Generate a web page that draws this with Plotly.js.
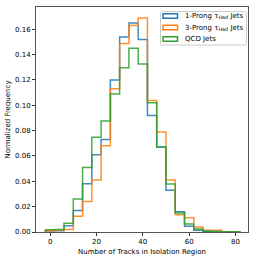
<!DOCTYPE html>
<html>
<head>
<meta charset="utf-8">
<script src="https://cdn.plot.ly/plotly-3.0.1.min.js"></script>
<style>html,body{margin:0;padding:0;background:#fff;}#chart{width:258px;height:258px;}</style>
</head>
<body>
<div id="chart"></div>
<script>
// Bin edges: -2, 2, 6, ..., 82 (width 4)
const binEdges = [-2,2,6,10,14,18,22,26,30,34,38,42,46,50,54,58,62,66,70,74,78,82];
const oneProng = [0.001,0.001,0.005,0.017,0.038,0.061,0.073,0.120,0.154,0.165,0.152,0.092,0.067,0.033,0.016,0.0045,0.0013,0.0004,0,0,0];
const threeProng = [0.0008,0.0013,0.002,0.0124,0.024,0.041,0.068,0.113,0.1487,0.163,0.169,0.1037,0.079,0.041,0.0137,0.0113,0.004,0.0013,0.0013,0,0];
const qcd = [0.0018,0.002,0.007,0.026,0.051,0.0747,0.0876,0.109,0.1297,0.145,0.1326,0.102,0.067,0.0379,0.015,0.0063,0.0024,0.0008,0.0003,0.0002,0.0002];
const seriesNames = ['1-Prong τ<sub>Had</sub> Jets','3-Prong τ<sub>Had</sub> Jets','QCD Jets'];
const seriesColors = ['#1f77b4','#ff7f0e','#2ca02c'];
const yTickVals = [0,0.02,0.04,0.06,0.08,0.10,0.12,0.14,0.16];
const xTickVals = [0,20,40,60,80];

function stepPath(vals){
  const xs=[binEdges[0]], ys=[0];
  for(let i=0;i<vals.length;i++){xs.push(binEdges[i]); ys.push(vals[i]);}
  xs.push(binEdges[vals.length]); ys.push(vals[vals.length-1]);
  xs.push(binEdges[vals.length]); ys.push(0);
  return {xs, ys};
}
const allSeries=[oneProng,threeProng,qcd];
const traces=[];
allSeries.forEach((vals,i)=>{
  const p=stepPath(vals);
  traces.push({type:'scatter',mode:'lines',name:seriesNames[i],x:p.xs,y:p.ys,line:{shape:'hv',color:seriesColors[i],width:1.5},opacity:0.85,showlegend:false,hoverinfo:'skip'});
});

// Manual legend (matplotlib style) in pixel layout -> paper coords
const M={l:36,r:10,t:7,b:26}, W=258, H=258;
const pw=W-M.l-M.r, ph=H-M.t-M.b;
const px=x=>(x-M.l)/pw, py=y=>(H-M.b-y)/ph;
const box={x0:160.5,x1:246.5,y0:11.5,y1:45};
const rr=2;
function roundRectPath(b){
  const X=px, Y=py;
  return `M${X(b.x0+rr)},${Y(b.y0)} L${X(b.x1-rr)},${Y(b.y0)} Q${X(b.x1)},${Y(b.y0)} ${X(b.x1)},${Y(b.y0+rr)} L${X(b.x1)},${Y(b.y1-rr)} Q${X(b.x1)},${Y(b.y1)} ${X(b.x1-rr)},${Y(b.y1)} L${X(b.x0+rr)},${Y(b.y1)} Q${X(b.x0)},${Y(b.y1)} ${X(b.x0)},${Y(b.y1-rr)} L${X(b.x0)},${Y(b.y0+rr)} Q${X(b.x0)},${Y(b.y0)} ${X(b.x0+rr)},${Y(b.y0)} Z`;
}
const shapes=[{type:'path',xref:'paper',yref:'paper',path:roundRectPath(box),fillcolor:'rgba(255,255,255,0.8)',line:{color:'#cccccc',width:1},layer:'above'}];
const annotations=[];
const rowY=[16,27.5,39];
seriesNames.forEach((n,i)=>{
  shapes.push({type:'rect',xref:'paper',yref:'paper',x0:px(163),x1:px(177.5),y0:py(rowY[i]+2.3),y1:py(rowY[i]-2.3),fillcolor:'rgba(0,0,0,0)',line:{color:seriesColors[i],width:1.5},layer:'above'});
  annotations.push({xref:'paper',yref:'paper',x:px(182.5),y:py(rowY[i]),xanchor:'left',yanchor:'middle',showarrow:false,text:n,font:{family:'DejaVu Sans, sans-serif',size:7,color:'#000'}});
});

const fnt={family:'DejaVu Sans, sans-serif',size:7,color:'#000'};
const layout={
  width:W,height:H,
  margin:{l:M.l,r:M.r,t:M.t,b:M.b,pad:0},
  paper_bgcolor:'#fff',plot_bgcolor:'#fff',
  font:fnt,
  showlegend:false,
  shapes:shapes,
  annotations:annotations,
  xaxis:{range:[-6.1,85.4],tickvals:xTickVals,ticks:'outside',ticklen:3,tickwidth:0.8,tickcolor:'#000',showgrid:false,zeroline:false,showline:true,mirror:true,linecolor:'#555',linewidth:1,tickfont:fnt,
    title:{text:'Number of Tracks in Isolation Region',font:fnt,standoff:3}},
  yaxis:{range:[0,0.1776],tickvals:yTickVals,tickformat:'.2f',ticks:'outside',ticklen:3,tickwidth:0.8,tickcolor:'#000',showgrid:false,zeroline:false,showline:true,mirror:true,linecolor:'#555',linewidth:1,tickfont:fnt,
    title:{text:'Normalized Frequency',font:fnt,standoff:3}}
};
Plotly.newPlot('chart',traces,layout,{staticPlot:true,displayModeBar:false});
</script>
</body>
</html>
